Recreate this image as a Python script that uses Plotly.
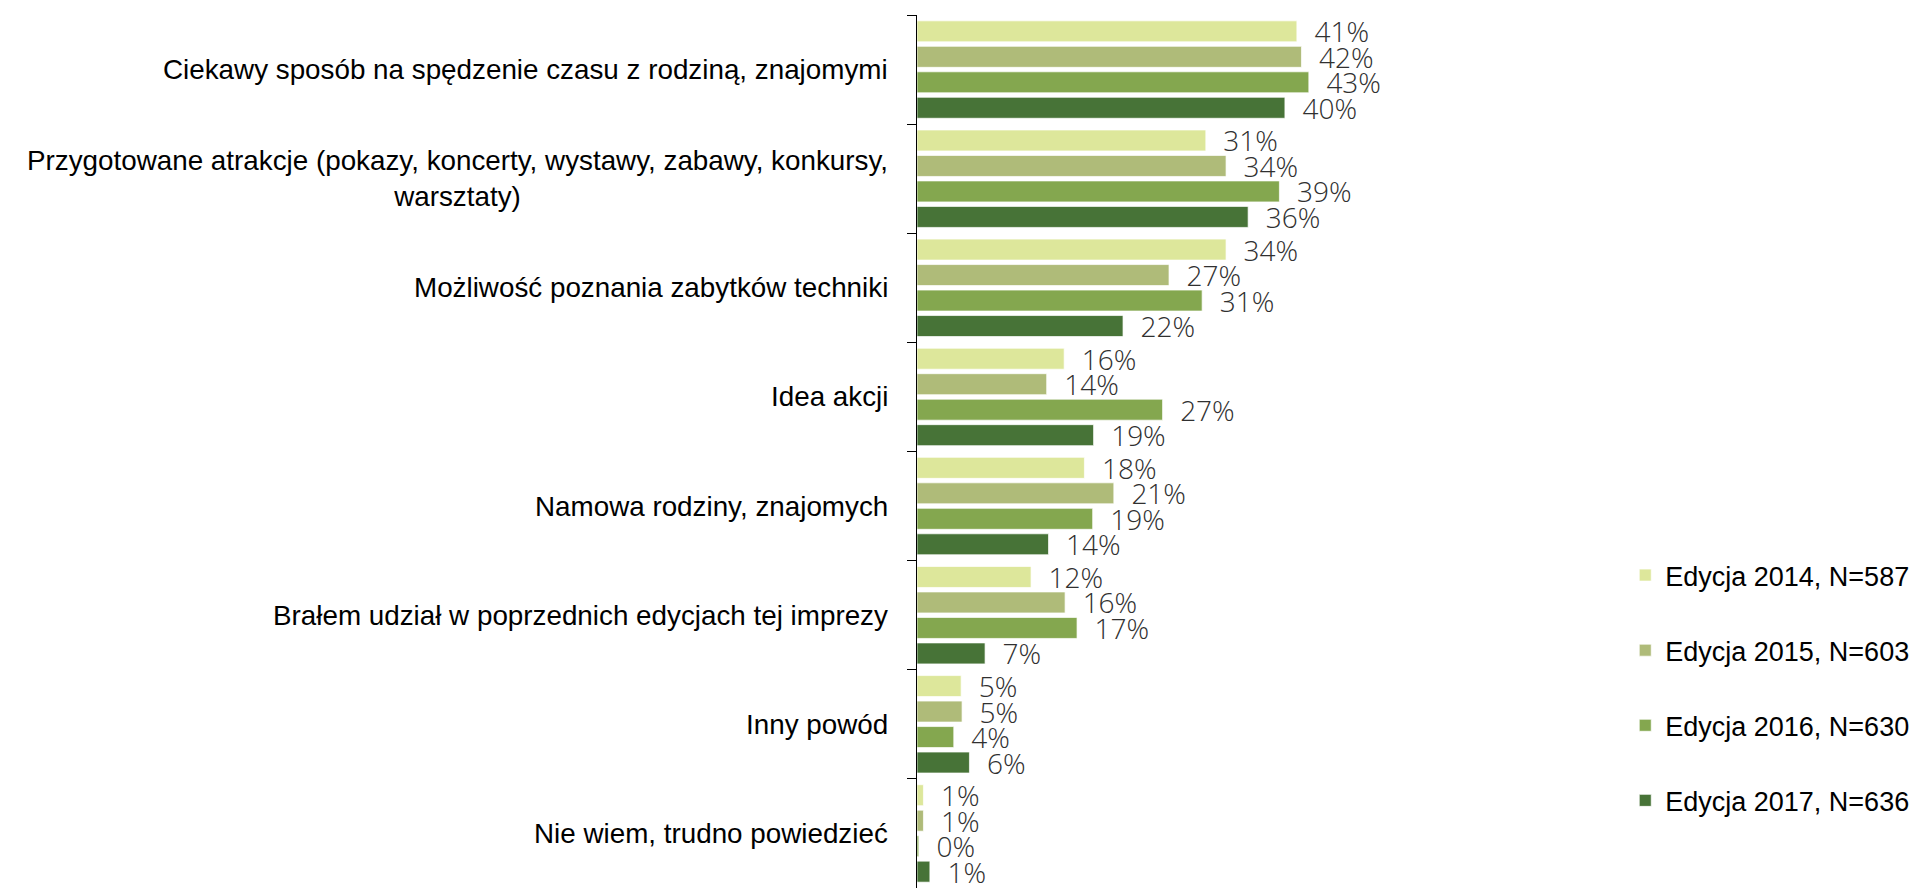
import plotly.graph_objects as go

categories = [
    "Ciekawy sposób na spędzenie czasu z rodziną, znajomymi",
    "Przygotowane atrakcje (pokazy, koncerty, wystawy, zabawy, konkursy,<br>warsztaty)",
    "Możliwość poznania zabytków techniki",
    "Idea akcji",
    "Namowa rodziny, znajomych",
    "Brałem udział w poprzednich edycjach tej imprezy",
    "Inny powód",
    "Nie wiem, trudno powiedzieć",
]
cat_keys = ["c%d" % i for i in range(len(categories))]

series_names = [
    "Edycja 2014, N=587",
    "Edycja 2015, N=603",
    "Edycja 2016, N=630",
    "Edycja 2017, N=636",
]
# bar lengths (percent)
values_2014 = [41.3, 31.4, 33.6, 16.0, 18.2, 12.4, 4.8, 0.7]
values_2015 = [41.8, 33.6, 27.4, 14.1, 21.4, 16.1, 4.9, 0.7]
values_2016 = [42.6, 39.4, 31.0, 26.7, 19.1, 17.4, 4.0, 0.2]
values_2017 = [40.0, 36.0, 22.4, 19.2, 14.3, 7.4, 5.7, 1.4]
# printed data labels
labels_2014 = [41, 31, 34, 16, 18, 12, 5, 1]
labels_2015 = [42, 34, 27, 14, 21, 16, 5, 1]
labels_2016 = [43, 39, 31, 27, 19, 17, 4, 0]
labels_2017 = [40, 36, 22, 19, 14, 7, 6, 1]
series_values = [values_2014, values_2015, values_2016, values_2017]
series_labels = [labels_2014, labels_2015, labels_2016, labels_2017]
colors = ["#DDE79B", "#AFBB79", "#84A74F", "#477337"]

W, H = 1918, 892
ML, MR, MT, MB = 917, 318, 15, 4
px_per_pct = 9.225
xmax = (W - ML - MR) / px_per_pct

fig = go.Figure()
for name, vals, labs, col in zip(series_names, series_values, series_labels, colors):
    fig.add_trace(go.Bar(
        y=cat_keys, x=vals, name=name, orientation="h",
        marker=dict(color=col, line=dict(color="rgba(255,255,255,0.7)", width=1)),
        text=[f"{v}%" for v in labs],
        texttemplate="\u00a0\u00a0%{text}",
        textposition="outside",
        constraintext="none",
        cliponaxis=False,
        textfont=dict(family="Open Sans", size=28, color="#303030", weight=300),
        legendgroup=name,
        hoverinfo="skip",
    ))

for key, label in zip(cat_keys, categories):
    fig.add_annotation(
        xref="paper", yref="y", x=0, y=key, text=label,
        xanchor="right", yanchor="middle", align="center",
        xshift=-27, showarrow=False,
        font=dict(family="Liberation Sans, Arial", size=27.8, color="#000000"),
    )

fig.update_layout(
    width=W, height=H,
    margin=dict(l=ML, r=MR, t=MT, b=MB, pad=0),
    paper_bgcolor="white", plot_bgcolor="white",
    barmode="group", bargap=0.066, bargroupgap=0.176,
    showlegend=True,
    legend=dict(
        x=1.04, xanchor="left", y=0.386, yanchor="top",
        font=dict(family="Liberation Sans, Arial", size=27, color="#000000"),
        tracegroupgap=37, traceorder="grouped",
        bgcolor="rgba(0,0,0,0)", itemclick=False,
    ),
    xaxis=dict(range=[0, xmax], showgrid=False, zeroline=False,
               showticklabels=False, ticks="", showline=False, fixedrange=True),
    yaxis=dict(
        categoryorder="array", categoryarray=cat_keys, autorange="reversed",
        showgrid=False, zeroline=False, showticklabels=False,
        ticks="outside", tickson="boundaries", ticklen=9, tickcolor="#000000",
        tickwidth=1.3, showline=True, linecolor="#000000", linewidth=1.3,
        fixedrange=True,
    ),
)

fig.write_html(
    "out.html",
    config={"displayModeBar": False},
    post_script="document.body.style.margin='0';document.body.style.overflow='hidden';",
)
